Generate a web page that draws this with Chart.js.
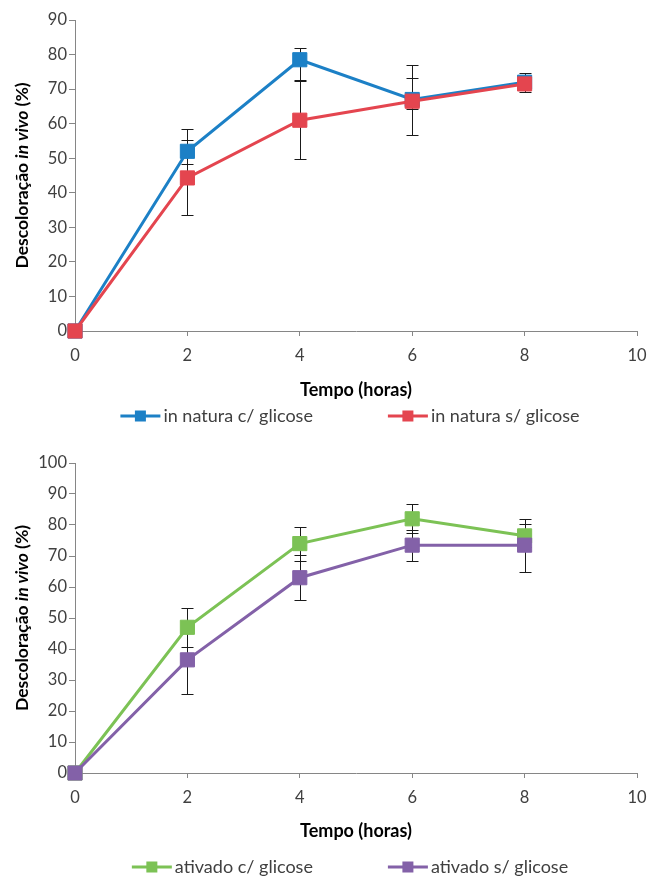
<!DOCTYPE html>
<html>
<head>
<meta charset="utf-8">
<script src="https://cdn.jsdelivr.net/npm/chart.js@4/dist/chart.umd.min.js"></script>
<style>
  body { margin: 0; background: #fff; width: 650px; height: 876px; overflow: hidden; }
  canvas { position: absolute; left: 0; }
</style>
</head>
<body>
<canvas id="chartTop" width="650" height="440" style="top:0"></canvas>
<canvas id="chartBottom" width="650" height="436" style="top:440px"></canvas>
<script>
// horas
const hours = [0, 2, 4, 6, 8];
const xTicks = [0, 2, 4, 6, 8, 10];

// grafico de cima: in natura
const naturaCom = [0, 52, 78.5, 67, 72];
const naturaComUp = [0, 6.5, 3.5, 9.9, 2.7];
const naturaComDown = [0, 3.6, 6, 10.2, 2.7];
const naturaSem = [0, 44.3, 61, 66.5, 71.5];
const naturaSemUp = [0, 10.9, 11.3, 6.7, 1];
const naturaSemDown = [0, 10.8, 11.3, 2.2, 1];

// grafico de baixo: ativado
const ativadoCom = [0, 47, 74, 82, 76.5];
const ativadoComErr = [0, 6.2, 5.5, 4.7, 3.7];
const ativadoSem = [0, 36.5, 63, 73.5, 73.5];
const ativadoSemErr = [0, 11, 7.3, 5, 8.5];

const FONT = "Lato, 'Open Sans', sans-serif";
const AXIS = '#868686';
const TEXT = '#404040';

function toPoints(ys) {
  return hours.map((h, i) => ({ x: h, y: ys[i] }));
}

function series(label, ys, color, up, down, order) {
  return {
    label: label,
    data: toPoints(ys),
    borderColor: color,
    backgroundColor: color,
    borderWidth: 3,
    pointStyle: 'rect',
    pointRadius: 10,
    pointBorderWidth: 1,
    pointBorderColor: color,
    pointBackgroundColor: color,
    tension: 0,
    clip: false,
    order: order,
    errUp: up,
    errDown: down
  };
}

const errorBars = {
  id: 'errorBars',
  beforeDatasetsDraw(chart) {
    const ctx = chart.ctx;
    const xs = chart.scales.x, ys = chart.scales.y;
    ctx.save();
    ctx.strokeStyle = '#1a1a1a';
    ctx.lineWidth = 1;
    chart.data.datasets.forEach(ds => {
      ds.data.forEach((p, i) => {
        const up = ds.errUp[i], down = ds.errDown[i];
        if (!up && !down) return;
        const px = Math.round(xs.getPixelForValue(p.x)) + 0.5;
        const top = Math.round(ys.getPixelForValue(p.y + up)) + 0.5;
        const bot = Math.round(ys.getPixelForValue(p.y - down)) + 0.5;
        ctx.beginPath();
        ctx.moveTo(px, top); ctx.lineTo(px, bot);
        ctx.moveTo(px - 6, top); ctx.lineTo(px + 6, top);
        ctx.moveTo(px - 6, bot); ctx.lineTo(px + 6, bot);
        ctx.stroke();
      });
    });
    ctx.restore();
  }
};

const extras = {
  id: 'extras',
  afterDraw(chart, args, opts) {
    const ctx = chart.ctx;
    const area = chart.chartArea;
    ctx.save();

    // titulo do eixo y com "in vivo" em italico
    const parts = [
      ['Descoloração ', 'bold'],
      ['in vivo', 'italic bold'],
      [' (%)', 'bold']
    ];
    let total = 0;
    parts.forEach(p => { ctx.font = p[1] + ' 17.5px ' + FONT; p.w = ctx.measureText(p[0]).width; total += p.w; });
    ctx.translate(22, (area.top + area.bottom) / 2);
    ctx.rotate(-Math.PI / 2);
    ctx.fillStyle = '#000';
    ctx.textBaseline = 'middle';
    ctx.textAlign = 'left';
    let tx = -total / 2;
    parts.forEach(p => { ctx.font = p[1] + ' 17.5px ' + FONT; ctx.fillText(p[0], tx, 0); tx += p.w; });
    ctx.setTransform(1, 0, 0, 1, 0, 0);

    // legenda
    const ds = chart.data.datasets;
    ctx.font = '18px ' + FONT;
    const lineLen = 40, gap = 75, textGap = 3;
    const widths = ds.map(d => lineLen + textGap + ctx.measureText(d.label).width);
    const full = widths.reduce((a, b) => a + b, 0) + gap * (ds.length - 1);
    let lx = (area.left + area.right) / 2 - 6 - full / 2;
    const ly = area.bottom + opts.legendOffset;
    ds.forEach((d, i) => {
      ctx.strokeStyle = d.borderColor;
      ctx.lineWidth = 3;
      ctx.beginPath();
      ctx.moveTo(lx, ly); ctx.lineTo(lx + lineLen, ly);
      ctx.stroke();
      ctx.fillStyle = d.borderColor;
      ctx.fillRect(lx + lineLen / 2 - 5.5, ly - 5.5, 11, 11);
      ctx.fillStyle = TEXT;
      ctx.textBaseline = 'middle';
      ctx.fillText(d.label, lx + lineLen + textGap, ly);
      lx += widths[i] + gap;
    });
    ctx.restore();
  }
};

function makeChart(id, datasets, yMax, titleGap, legendOffset, xHeight, topPad) {
  return new Chart(document.getElementById(id), {
    type: 'line',
    data: { datasets: datasets },
    plugins: [errorBars, extras],
    options: {
      responsive: false,
      animation: false,
      layout: { padding: { top: topPad, right: 13, bottom: 0, left: 0 } },
      plugins: {
        legend: { display: false },
        tooltip: { enabled: false },
        extras: { legendOffset: legendOffset }
      },
      scales: {
        x: {
          type: 'linear',
          min: 0,
          max: 10,
          afterBuildTicks: s => { s.ticks = xTicks.map(v => ({ value: v })); },
          afterFit: s => { s.height = xHeight; s.paddingLeft = 0; s.paddingRight = 0; },
          grid: { drawOnChartArea: false, drawTicks: true, tickLength: 5, color: AXIS },
          border: { color: AXIS, width: 1 },
          ticks: { color: TEXT, font: { family: FONT, size: 16.5 }, padding: 10 },
          title: {
            display: true,
            text: 'Tempo (horas)',
            color: '#000',
            font: { family: FONT, size: 18, weight: 'bold' },
            padding: { top: 0, bottom: titleGap }
          }
        },
        y: {
          min: 0,
          max: yMax,
          afterFit: s => { s.width = 75; },
          grid: { drawOnChartArea: false, drawTicks: true, tickLength: 6, color: AXIS },
          border: { color: AXIS, width: 1 },
          ticks: { stepSize: 10, color: TEXT, font: { family: FONT, size: 16.5 }, padding: 2 }
        }
      }
    }
  });
}

makeChart('chartTop', [
  series('in natura c/ glicose', naturaCom, '#1c80c6', naturaComUp, naturaComDown, 1),
  series('in natura s/ glicose', naturaSem, '#e4454f', naturaSemUp, naturaSemDown, 0)
], 90, 39, 85, 109, 20);

makeChart('chartBottom', [
  series('ativado c/ glicose', ativadoCom, '#7cc255', ativadoComErr, ativadoComErr, 1),
  series('ativado s/ glicose', ativadoSem, '#8361a8', ativadoSemErr, ativadoSemErr, 0)
], 100, 34, 94, 103, 23);
</script>
</body>
</html>
